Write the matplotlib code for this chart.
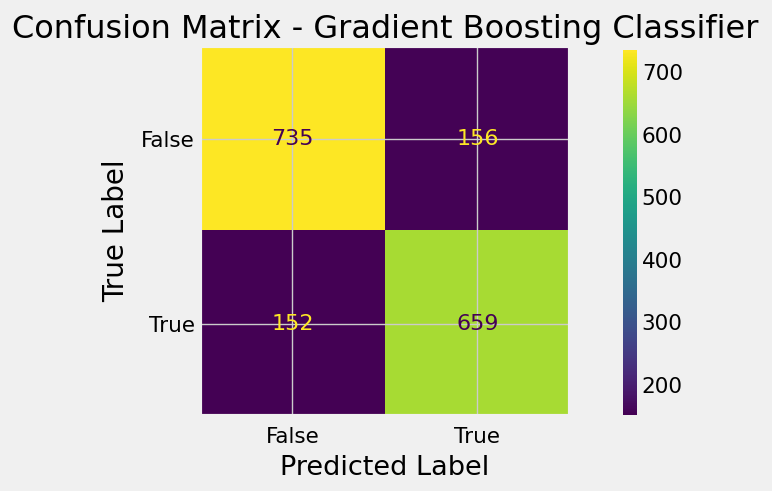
import matplotlib
matplotlib.use('Agg')
import matplotlib.pyplot as plt
import numpy as np

plt.style.use('fivethirtyeight')

# confusion matrix values
labels = ['False', 'True']
matrix = np.array([[735, 156],
                   [152, 659]])

fig = plt.figure(figsize=(7.72, 4.91), dpi=100)
ax = fig.add_axes([0.259, 0.1507, 0.4793, 0.7576])
cax = fig.add_axes([0.807, 0.155, 0.018, 0.743])

cmap = plt.get_cmap('viridis')
im = ax.imshow(matrix, cmap=cmap, interpolation='nearest')

# text colour like sklearn's ConfusionMatrixDisplay
thresh = (matrix.max() + matrix.min()) / 2.0
for i in range(matrix.shape[0]):
    for j in range(matrix.shape[1]):
        clr = cmap(0) if matrix[i, j] >= thresh else cmap(1.0)
        ax.text(j, i, str(matrix[i, j]), ha='center', va='center', color=clr, fontsize=16)

ax.set_xticks(range(len(labels)))
ax.set_yticks(range(len(labels)))
ax.set_xticklabels(labels, fontsize=15.5)
ax.set_yticklabels(labels, fontsize=15.5)
ax.tick_params(axis='x', pad=8)
ax.set_xlabel('Predicted Label', fontsize=19.5, labelpad=6)
ax.set_ylabel('True Label', fontsize=20, labelpad=8)
ax.set_title('Confusion Matrix - Gradient Boosting Classifier', fontsize=23)

cb = fig.colorbar(im, cax=cax)
cb.outline.set_visible(False)
cb.ax.tick_params(labelsize=15.5)

plt.savefig('out.png', dpi=100)
